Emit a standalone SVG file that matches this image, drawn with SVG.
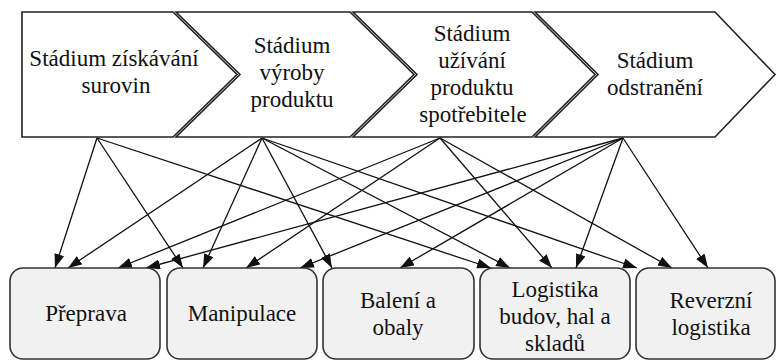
<svg xmlns="http://www.w3.org/2000/svg" width="777" height="361" viewBox="0 0 777 361">
<style>
.chev{fill:#fff;stroke:#222;stroke-width:1.6;stroke-linejoin:miter}
.box{fill:#f1f1f1;stroke:#333;stroke-width:1.6}
.c{stroke:#111;stroke-width:1.3;fill:none;marker-end:url(#ah)}
</style>
<defs>
<marker id="ah" markerUnits="userSpaceOnUse" markerWidth="15" markerHeight="10" refX="14" refY="5" orient="auto">
<path d="M0,0 L14,5 L0,10 Z" fill="#111"/>
</marker>
</defs>
<g font-family="Liberation Serif, DejaVu Serif, serif" font-size="23" fill="#111" text-anchor="middle">
<g id="stage1">
<path class="chev" d="M22,12 L173,12 L237,74.5 L173,137 L22,137 Z"/>
<text x="114" y="66">Stádium získávání</text>
<text x="116" y="93">surovin</text>
</g>
<g id="stage2">
<path class="chev" d="M176,12 L350,12 L414,74.5 L350,137 L176,137 L240,74.5 Z"/>
<text x="292" y="53">Stádium</text>
<text x="292" y="80">výroby</text>
<text x="292" y="107">produktu</text>
</g>
<g id="stage3">
<path class="chev" d="M353,12 L532,12 L595,74.5 L532,137 L353,137 L417,74.5 Z"/>
<text x="472" y="41">Stádium</text>
<text x="472" y="68">užívání</text>
<text x="472" y="95">produktu</text>
<text x="473" y="122">spotřebitele</text>
</g>
<g id="stage4">
<path class="chev" d="M535,12 L715,12 L775,74.5 L715,137 L535,137 L598,74.5 Z"/>
<text x="655" y="68">Stádium</text>
<text x="655" y="95">odstranění</text>
</g>
<g id="connectors">
<line class="c" x1="97" y1="138" x2="55" y2="268"/>
<line class="c" x1="97" y1="138" x2="183" y2="268"/>
<line class="c" x1="97" y1="138" x2="491" y2="268"/>
<line class="c" x1="262" y1="138" x2="68" y2="268"/>
<line class="c" x1="262" y1="138" x2="203" y2="268"/>
<line class="c" x1="262" y1="138" x2="332" y2="268"/>
<line class="c" x1="262" y1="138" x2="510" y2="268"/>
<line class="c" x1="262" y1="138" x2="637" y2="268"/>
<line class="c" x1="440" y1="138" x2="118" y2="268"/>
<line class="c" x1="440" y1="138" x2="246" y2="268"/>
<line class="c" x1="440" y1="138" x2="552" y2="268"/>
<line class="c" x1="440" y1="138" x2="672" y2="268"/>
<line class="c" x1="623" y1="138" x2="146" y2="268"/>
<line class="c" x1="623" y1="138" x2="300" y2="268"/>
<line class="c" x1="623" y1="138" x2="400" y2="268"/>
<line class="c" x1="623" y1="138" x2="576" y2="268"/>
<line class="c" x1="623" y1="138" x2="708" y2="268"/>
</g>
<g id="prepava">
<rect class="box" x="10" y="268" width="150" height="91" rx="13"/>
<text x="86" y="321">Přeprava</text>
</g>
<g id="manipulace">
<rect class="box" x="167" y="268" width="150" height="91" rx="13"/>
<text x="242" y="321">Manipulace</text>
</g>
<g id="baleni">
<rect class="box" x="323" y="268" width="151" height="91" rx="13"/>
<text x="398" y="308">Balení a</text>
<text x="398" y="335">obaly</text>
</g>
<g id="logistika">
<rect class="box" x="480" y="268" width="150" height="91" rx="13"/>
<text x="555" y="297">Logistika</text>
<text x="555" y="324">budov, hal a</text>
<text x="555" y="351">skladů</text>
</g>
<g id="reverzni">
<rect class="box" x="636" y="268" width="139" height="91" rx="13"/>
<text x="711" y="308">Reverzní</text>
<text x="711" y="335">logistika</text>
</g>
</g>
</svg>
